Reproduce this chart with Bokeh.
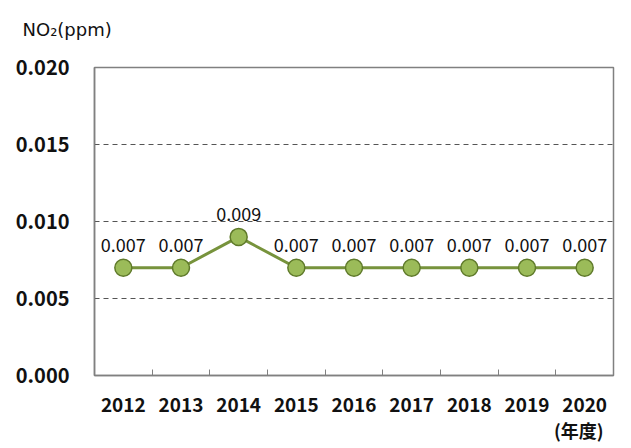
from bokeh.plotting import figure
from bokeh.models import ColumnDataSource, FixedTicker, Range1d, Title
from bokeh.embed import file_html
from bokeh.resources import INLINE

years = ["2012", "2013", "2014", "2015", "2016", "2017", "2018", "2019", "2020"]
values = [0.007, 0.007, 0.009, 0.007, 0.007, 0.007, 0.007, 0.007, 0.007]
y_ticks = [0.000, 0.005, 0.010, 0.015, 0.020]
y_tick_labels = ["0.000", "0.005", "0.010", "0.015", "0.020"]
title_text = "NO₂(ppm)"
unit_text = "(年度)"

xs = [i + 0.5 for i in range(len(years))]
src = ColumnDataSource(dict(x=xs, y=values, lab=["%.3f" % v for v in values]))

FONT = "Noto Sans CJK JP"

p = figure(width=631, height=448, output_backend="svg", toolbar_location=None,
           x_range=Range1d(0, len(years)), y_range=Range1d(0, 0.020),
           min_border_left=94, min_border_top=67, min_border_right=18, min_border_bottom=73)

p.outline_line_color = "#808080"
p.outline_line_width = 1.5

p.xaxis.ticker = FixedTicker(ticks=xs, minor_ticks=list(range(1, len(years))))
p.xaxis.major_label_overrides = {x: y for x, y in zip(xs, years)}
p.xaxis.major_tick_in = 0
p.xaxis.major_tick_out = 0
p.xaxis.minor_tick_in = 6
p.xaxis.minor_tick_out = 0
p.xaxis.minor_tick_line_color = "#808080"
p.xaxis.axis_line_color = "#808080"
p.xaxis.axis_line_width = 1.5
p.xaxis.major_label_text_font = FONT
p.xaxis.major_label_text_font_style = "bold"
p.xaxis.major_label_text_font_size = "19px"
p.xaxis.major_label_text_color = "#111111"
p.xaxis.major_label_standoff = 22

p.yaxis.ticker = FixedTicker(ticks=y_ticks)
p.yaxis.major_label_overrides = {t: l for t, l in zip(y_ticks, y_tick_labels)}
p.yaxis.major_tick_in = 0
p.yaxis.major_tick_out = 0
p.yaxis.minor_tick_line_color = None
p.yaxis.axis_line_color = "#808080"
p.yaxis.axis_line_width = 1.5
p.yaxis.major_label_text_font = FONT
p.yaxis.major_label_text_font_style = "bold"
p.yaxis.major_label_text_font_size = "20px"
p.yaxis.major_label_text_color = "#111111"
p.yaxis.major_label_standoff = 25

p.xgrid.grid_line_color = None
p.ygrid.ticker = FixedTicker(ticks=y_ticks[1:-1])
p.ygrid.grid_line_color = "#555555"
p.ygrid.grid_line_dash = "5 4"
p.ygrid.grid_line_width = 1

p.line("x", "y", source=src, line_color="#77933C", line_width=3)
p.scatter("x", "y", source=src, size=17, fill_color="#9BBB59",
          line_color="#5F7A2A", line_width=1.5)
p.text("x", "y", text="lab", source=src, text_align="center", text_baseline="bottom",
       y_offset=-16, text_font_size="18px", text_color="#111111",
       text_font={"value": FONT})

p.add_layout(Title(text=title_text + "\n ", align="left", offset=-72, standoff=4,
                   text_line_height=1.2,
                   text_font="DejaVu Sans", text_font_style="normal", text_font_size="18px",
                   text_color="#111111"), "above")
p.add_layout(Title(text=unit_text, align="right", offset=10, standoff=0,
                   text_font=FONT, text_font_style="bold", text_font_size="18px",
                   text_color="#111111"), "below")

open("out.html", "w").write(file_html(p, INLINE))
